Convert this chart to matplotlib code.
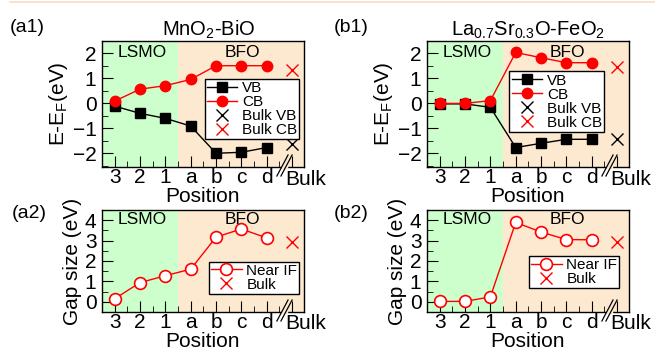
import numpy as np
import matplotlib.pyplot as plt
import matplotlib.transforms as mtransforms
from matplotlib.lines import Line2D

plt.rcParams['font.family'] = ['Liberation Sans', 'DejaVu Sans']
plt.rcParams['mathtext.fontset'] = 'custom'
plt.rcParams['mathtext.rm'] = 'Liberation Sans'
plt.rcParams['mathtext.it'] = 'Liberation Sans:italic'

# Data
positions = ['3', '2', '1', 'a', 'b', 'c', 'd']
x = np.arange(len(positions))
x_bulk = 7

vb_a = [-0.11, -0.40, -0.60, -0.91, -2.00, -1.96, -1.77]
cb_a = [0.09, 0.57, 0.71, 0.96, 1.51, 1.51, 1.51]
bulk_vb_a = -1.64
bulk_cb_a = 1.33

vb_b = [-0.02, -0.02, -0.16, -1.77, -1.60, -1.44, -1.44]
cb_b = [0.0, 0.0, 0.11, 2.04, 1.83, 1.63, 1.63]
bulk_vb_b = -1.44
bulk_cb_b = 1.47

gap_a = [0.15, 0.94, 1.28, 1.60, 3.17, 3.57, 3.13]
bulk_gap_a = 2.93
gap_b = [0.02, 0.02, 0.24, 3.89, 3.42, 3.05, 3.04]
bulk_gap_b = 2.92

green = '#ccffcc'
beige = '#fde9d0'
W, H = 655, 352
TICK_FS = 15
LAB_FS = 15

fig = plt.figure(figsize=(W / 100, H / 100), dpi=100)

# thin rule along the top edge
fig.add_artist(Line2D([10 / W, 1], [1 - 1.5 / H, 1 - 1.5 / H], color='#f6dcc6', lw=1.2))


def setup(ax, ylim, yticks, xpad=0):
    ax.set_xlim(-0.5, 7.45)
    ax.set_ylim(*ylim)
    ax.axvspan(-0.5, 2.5, color=green, zorder=0, lw=0)
    ax.axvspan(2.5, 7.45, color=beige, zorder=0, lw=0)
    ax.set_xticks(range(8))
    ax.set_xticklabels(positions + [''])
    ax.set_xticks(np.arange(0.5, 7, 1), minor=True)
    ax.set_yticks(yticks)
    ax.set_yticks(np.arange(yticks[0] - 0.5, yticks[-1] + 0.6, 0.5), minor=True)
    ax.tick_params(which='both', direction='in', top=False, right=False, labelsize=TICK_FS)
    ax.tick_params(axis='x', which='major', length=8, pad=1)
    ax.tick_params(axis='y', which='major', length=8, pad=4)
    ax.tick_params(which='minor', length=4)
    for s in ax.spines.values():
        s.set_linewidth(1.0)
    ax.set_xlabel('Position', fontsize=LAB_FS, labelpad=xpad)
    trans = mtransforms.blended_transform_factory(ax.transData, ax.transAxes)
    ax.text(1.1, 0.91, 'LSMO', transform=trans, ha='center', va='center', fontsize=12.5)
    ax.text(5.05, 0.91, 'BFO', transform=trans, ha='center', va='center', fontsize=12.5)
    ax.text(7.55, -0.02, 'Bulk', transform=trans, ha='center', va='top', fontsize=TICK_FS)
    # axis break marks
    hpx = ax.get_position().height * H
    xb = 6.68
    ax.plot([xb - 0.02, xb + 0.08], [0.0, 0.0], transform=trans, color=beige,
            lw=2.5, clip_on=False, zorder=5)
    for dx in (0.0, 0.16):
        ax.plot([xb - 0.28 + dx, xb + 0.16 + dx], [-9 / hpx, 12 / hpx], transform=trans,
                color='black', lw=0.9, clip_on=False, zorder=6)


def legend(ax, anchor):
    leg = ax.legend(loc='upper right', bbox_to_anchor=anchor, fontsize=11,
                    frameon=True, fancybox=False, framealpha=1, edgecolor='black',
                    borderpad=0.15, labelspacing=0.0, handlelength=2.0,
                    handletextpad=0.3, borderaxespad=0)
    leg.get_frame().set_linewidth(1.0)


top_b, top_h = (H - 167) / H, 126 / H
bot_b, bot_h = (H - 312) / H, 102 / H
left_a, left_b, wid = 102 / W, 427 / W, 201.5 / W

# (a1)
ax = fig.add_axes([left_a, top_b, wid, top_h])
setup(ax, (-2.55, 2.5), [-2, -1, 0, 1, 2])
ax.plot(x, vb_a, '-s', color='black', ms=6.5, lw=1, label='VB')
ax.plot(x, cb_a, '-o', color='red', ms=7.5, lw=1, label='CB')
ax.plot([x_bulk], [bulk_vb_a], 'x', color='black', ms=9, mew=1, ls='none', label='Bulk VB')
ax.plot([x_bulk], [bulk_cb_a], 'x', color='red', ms=9, mew=1, ls='none', label='Bulk CB')
ax.set_ylabel('E-E$_\\mathrm{F}$(eV)', fontsize=LAB_FS, labelpad=2)
ax.set_title('MnO$_\\mathrm{2}$-BiO', fontsize=14.5, pad=4, x=0.53)
legend(ax, (0.98, 0.70))

# (b1)
ax = fig.add_axes([left_b, top_b, wid, top_h])
setup(ax, (-2.55, 2.5), [-2, -1, 0, 1, 2])
ax.plot(x, vb_b, '-s', color='black', ms=6.5, lw=1, label='VB')
ax.plot(x, cb_b, '-o', color='red', ms=7.5, lw=1, label='CB')
ax.plot([x_bulk], [bulk_vb_b], 'x', color='black', ms=9, mew=1, ls='none', label='Bulk VB')
ax.plot([x_bulk], [bulk_cb_b], 'x', color='red', ms=9, mew=1, ls='none', label='Bulk CB')
ax.set_ylabel('E-E$_\\mathrm{F}$(eV)', fontsize=LAB_FS, labelpad=2)
ax.set_title('La$_\\mathrm{0.7}$Sr$_\\mathrm{0.3}$O-FeO$_\\mathrm{2}$', fontsize=14.5, pad=4)
legend(ax, (0.88, 0.76))

# (a2)
ax = fig.add_axes([left_a, bot_b, wid, bot_h])
setup(ax, (-0.08, 4.36), [0, 1, 2, 3, 4], xpad=0)
ax.plot(x, gap_a, '-o', color='red', mfc='white', mec='red', mew=1.2, ms=8.5, lw=1, label='Near IF')
ax.plot([x_bulk], [bulk_gap_a], 'x', color='red', ms=9, mew=1, ls='none', label='Bulk')
ax.set_ylabel('Gap size (eV)', fontsize=LAB_FS, labelpad=2)
legend(ax, (0.98, 0.495))

# (b2)
ax = fig.add_axes([left_b, bot_b, wid, bot_h])
setup(ax, (-0.12, 4.35), [0, 1, 2, 3, 4], xpad=0)
ax.plot(x, gap_b, '-o', color='red', mfc='white', mec='red', mew=1.2, ms=8.5, lw=1, label='Near IF')
ax.plot([x_bulk], [bulk_gap_b], 'x', color='red', ms=9, mew=1, ls='none', label='Bulk')
ax.set_ylabel('Gap size (eV)', fontsize=LAB_FS, labelpad=2)
legend(ax, (0.955, 0.55))

# panel labels
fig.text(10 / W, 1 - 27 / H, '(a1)', fontsize=14, va='center', ha='left')
fig.text(334 / W, 1 - 27 / H, '(b1)', fontsize=14, va='center', ha='left')
fig.text(12 / W, 1 - 213 / H, '(a2)', fontsize=14, va='center', ha='left')
fig.text(334 / W, 1 - 213 / H, '(b2)', fontsize=14, va='center', ha='left')

fig.savefig('out.png', dpi=100)
